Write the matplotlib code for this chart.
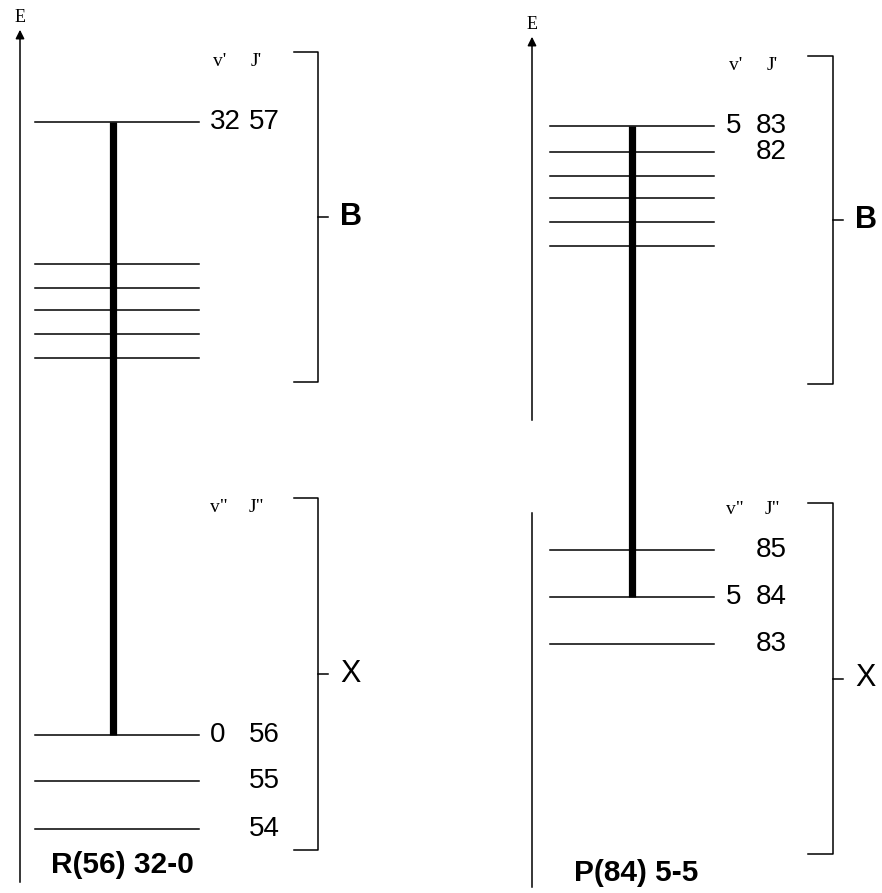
"""Energy level diagrams for two B-X transitions: R(56) 32-0 and P(84) 5-5."""

import matplotlib.pyplot as plt

# level energies, arbitrary units (up = higher)
r_upper_E = [771, 629, 605, 583, 559, 535]
r_upper_v = ["32", "", "", "", "", ""]
r_upper_J = ["57", "", "", "", "", ""]
r_lower_E = [158, 112, 64]
r_lower_v = ["0", "", ""]
r_lower_J = ["56", "55", "54"]
r_transition = (0, 0)      # (upper index, lower index)
r_title = "R(56) 32-0"

p_upper_E = [767, 741, 717, 695, 671, 647]
p_upper_v = ["5", "", "", "", "", ""]
p_upper_J = ["83", "82", "", "", "", ""]
p_lower_E = [343, 296, 249]
p_lower_v = ["", "5", ""]
p_lower_J = ["85", "84", "83"]
p_transition = (0, 1)
p_title = "P(84) 5-5"

states = ["B", "X"]

THIN = 1.1
LABEL_FONT = ["Liberation Sans", "DejaVu Sans"]
SERIF_FONT = ["Liberation Serif", "DejaVu Serif"]


def panel(ax, x0, upper_E, upper_v, upper_J, lower_E, lower_v, lower_J,
          transition, title, axis_segments, lay):
    # energy axis
    top = axis_segments[0][1]
    for lo, hi in axis_segments:
        ax.plot([x0, x0], [lo, hi], color="black", lw=THIN)
    ax.annotate("", xy=(x0, top + 13), xytext=(x0, top - 2),
                arrowprops=dict(arrowstyle="-|>", color="black", lw=THIN,
                                mutation_scale=13))
    ax.text(x0, top + 14, "E", ha="center", va="bottom", fontsize=13,
            family=SERIF_FONT)

    xl, xr = x0 + lay["l0"], x0 + lay["l1"]
    for Es, vs, Js in ((upper_E, upper_v, upper_J), (lower_E, lower_v, lower_J)):
        for E, v, J in zip(Es, vs, Js):
            ax.plot([xl, xr], [E, E], color="black", lw=THIN)
            if v:
                ax.text(x0 + lay["vcol"], E, v, ha="left", va="center",
                        fontsize=20, family=LABEL_FONT)
            if J:
                ax.text(x0 + lay["jcol"], E, J, ha="right", va="center",
                        fontsize=20, family=LABEL_FONT)

    # transition
    iu, il = transition
    ax.plot([x0 + lay["tx"]] * 2, [upper_E[iu], lower_E[il]],
            color="black", lw=5.2, solid_capstyle="butt")

    # quantum number headers
    ax.text(x0 + lay["hv"], lay["h_up"], "v'", ha="left", va="center",
            fontsize=14, family=SERIF_FONT)
    ax.text(x0 + lay["hj"], lay["h_up"], "J'", ha="left", va="center",
            fontsize=14, family=SERIF_FONT)
    ax.text(x0 + lay["hv"] - 3, lay["h_lo"], 'v"', ha="left", va="center",
            fontsize=14, family=SERIF_FONT)
    ax.text(x0 + lay["hj"] - 2, lay["h_lo"], 'J"', ha="left", va="center",
            fontsize=14, family=SERIF_FONT)

    # state brackets
    bx0, bx1 = x0 + lay["b0"], x0 + lay["b1"]
    for name, (btop, bbot), weight in zip(states, lay["brackets"], ("bold", "normal")):
        ax.plot([bx0, bx1, bx1, bx0], [btop, btop, bbot, bbot],
                color="black", lw=THIN)
        mid = (btop + bbot) / 2
        ax.plot([bx1, bx1 + 10], [mid, mid], color="black", lw=THIN)
        ax.text(bx1 + 22, mid, name, ha="left", va="center", fontsize=22,
                fontweight=weight, family=LABEL_FONT)

    ax.text(x0 + lay["title_x"], lay["title_y"], title, ha="center",
            va="center", fontsize=21.5, fontweight="bold", family=LABEL_FONT)


fig = plt.figure(figsize=(8.82, 8.93), dpi=100)
ax = fig.add_axes([0, 0, 1, 1])
ax.set_xlim(0, 882)
ax.set_ylim(0, 893)
ax.axis("off")

left_layout = dict(l0=15, l1=179, vcol=190, jcol=260, tx=93, hv=193, hj=231,
                   h_up=831, h_lo=385, b0=274, b1=298,
                   brackets=[(841, 511), (395, 43)], title_x=102, title_y=28)
right_layout = dict(l0=18, l1=182, vcol=194, jcol=255, tx=100, hv=197, hj=235,
                    h_up=828, h_lo=383, b0=276, b1=301,
                    brackets=[(837, 509), (390, 39)], title_x=104, title_y=20)

panel(ax, 20, r_upper_E, r_upper_v, r_upper_J, r_lower_E, r_lower_v, r_lower_J,
      r_transition, r_title, [(11, 853)], left_layout)
panel(ax, 532, p_upper_E, p_upper_v, p_upper_J, p_lower_E, p_lower_v, p_lower_J,
      p_transition, p_title, [(473, 846), (6, 380)], right_layout)

fig.savefig("out.png", dpi=100)
